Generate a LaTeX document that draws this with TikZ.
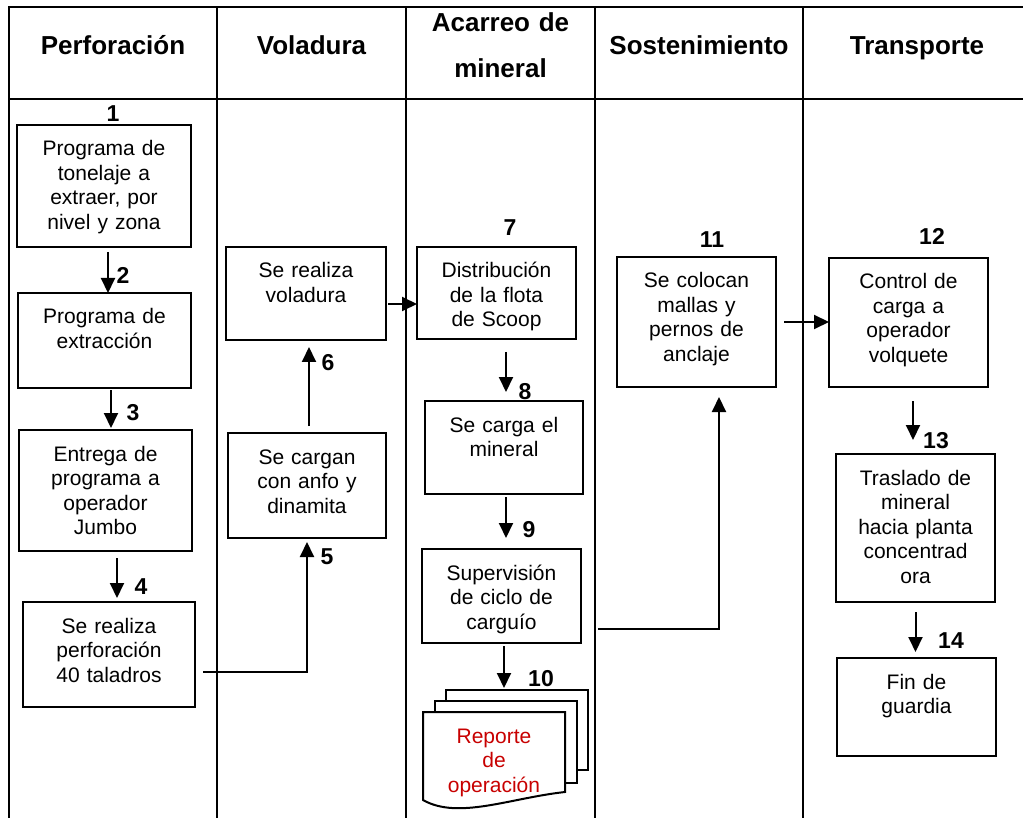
\documentclass[tikz,border=0pt]{standalone}
\usepackage{fontspec}
\setmainfont{Liberation Sans}
\usetikzlibrary{arrows.meta,backgrounds}
\definecolor{reportred}{RGB}{200,0,0}

\tikzset{
  frame/.style={line width=2.2pt},
  box/.style={draw, line width=2pt, anchor=north west, align=center,
    inner xsep=4pt, inner ysep=0pt, outer sep=0pt, text height=31pt,
    font=\fontsize{21}{24.5}\selectfont},
  head/.style={anchor=base, align=center, text width=190pt, inner sep=0pt,
    font=\fontsize{26}{46}\selectfont\bfseries},
  num/.style={inner sep=0pt, font=\fontsize{23}{26}\selectfont\bfseries},
  arr/.style={line width=2pt, -{Triangle[length=15pt,width=14pt]}},
  page/.style={line width=2pt, fill=white},
}

\begin{document}
\begin{tikzpicture}[x=1pt, y=-1pt]
  \useasboundingbox (0,0) rectangle (1023,818);

  \draw[frame] (1023,7) -- (9,7) -- (9,818);
  \draw[frame] (9,99) -- (1023,99);
  \draw[frame] (217,7) -- (217,818);
  \draw[frame] (406,7) -- (406,818);
  \draw[frame] (595,7) -- (595,818);
  \draw[frame] (803,7) -- (803,818);

  \node[head] (hperf) at (113,55) {Perforación};
  \node[head] (hvol) at (311.5,55) {Voladura};
  \node[head] (hacar) at (500.5,32) {Acarreo de\\mineral};
  \node[head] (hsost) at (699,55) {Sostenimiento};
  \node[head] (htrans) at (917,55) {Transporte};

  \node[box, text width=166pt, text depth=91pt] (b1) at (17,125) {Programa de\\tonelaje a\\extraer, por\\nivel y zona};
  \node[box, text width=165pt, text depth=64pt] (b2) at (18,293) {Programa de\\extracción};
  \node[box, text width=165pt, text depth=90pt] (b3) at (19,430) {Entrega de\\programa a\\operador\\Jumbo};
  \node[box, text width=164pt, text depth=74pt] (b4) at (23,602) {Se realiza\\perforación\\40 taladros};

  \node[box, text width=150pt, text depth=74pt] (b5) at (228,433) {Se cargan\\con anfo y\\dinamita};
  \node[box, text width=152pt, text depth=62pt] (b6) at (226,247) {Se realiza\\voladura};

  \node[box, text width=151pt, text depth=61pt] (b7) at (417,247) {Distribución\\de la flota\\de Scoop};
  \node[box, text width=150pt, text depth=62pt] (b8) at (425,401) {Se carga el\\mineral};
  \node[box, text width=151pt, text depth=63pt] (b9) at (422,549) {Supervisión\\de ciclo de\\carguío};
  \node[box, draw=none, text=reportred, text width=134pt, text depth=53pt] (b10) at (423,712) {Reporte\\de\\operación};

  \node[box, text width=151pt, text depth=99pt] (b11) at (617,257) {Se colocan\\mallas y\\pernos de\\anclaje};
  \node[box, text width=151pt, text depth=98pt] (b12) at (829,258) {Control de\\carga a\\operador\\volquete};
  \node[box, text width=151pt, text depth=117pt] (b13) at (836,454) {Traslado de\\mineral\\hacia planta\\concentrad\\ora};
  \node[box, text width=151pt, text depth=67pt] (b14) at (837,658) {Fin de\\guardia};

  \begin{scope}[on background layer]
    \draw[page] ([shift={(23pt,22pt)}]b10.north west) rectangle ([shift={(23pt,26pt)}]b10.south east);
    \draw[page] ([shift={(12pt,11pt)}]b10.north west) rectangle ([shift={(12pt,13pt)}]b10.south east);
    \draw[page] (b10.north west) -- (b10.north east) -- ([yshift=4pt]b10.south east)
      .. controls +(-55,6) and +(35,20) .. ([yshift=-4pt]b10.south west) -- cycle;
  \end{scope}

  \node[num] (n1) at (113,114) {1};
  \node[num] (n2) at (123,275) {2};
  \node[num] (n3) at (133,413) {3};
  \node[num] (n4) at (141,587) {4};
  \node[num] (n5) at (327,557) {5};
  \node[num] (n6) at (328,363) {6};
  \node[num] (n7) at (510,228) {7};
  \node[num] (n8) at (525,392) {8};
  \node[num] (n9) at (529,530) {9};
  \node[num] (n10) at (541,679) {10};
  \node[num] (n11) at (712,240) {11};
  \node[num] (n12) at (932,236) {12};
  \node[num] (n13) at (936,441) {13};
  \node[num] (n14) at (951,641) {14};

  \draw[arr, shorten <=5pt] ([xshift=4pt]b1.south) -- ([xshift=4pt]b1.south |- b2.north);
  \draw[arr, shorten <=2pt, shorten >=2pt] ([xshift=6.5pt]b2.south) -- ([xshift=6.5pt]b2.south |- b3.north);
  \draw[arr, shorten <=7pt, shorten >=4pt] ([xshift=11.5pt]b3.south) -- ([xshift=11.5pt]b3.south |- b4.north);
  \draw[arr, shorten >=4pt] (b4.east) ++(8,17.5) -| (b5.south);
  \draw[arr, shorten <=7pt, shorten >=7pt] ([xshift=2pt]b5.north) -- ([xshift=2pt]b5.north |- b6.south);
  \draw[arr, shorten <=2pt] ([yshift=-10.5pt]b6.east) -- ([yshift=-10.5pt]b6.east -| b7.west);
  \draw[arr, shorten <=13pt, shorten >=9pt] ([xshift=9.5pt]b7.south) -- ([xshift=9.5pt]b7.south |- b8.north);
  \draw[arr, shorten <=3pt, shorten >=11pt] ([xshift=2pt]b8.south) -- ([xshift=2pt]b8.south |- b9.north);
  \draw[arr, shorten <=3pt, shorten >=24pt] ([xshift=2.5pt]b9.south) -- ([xshift=2.5pt]b9.south |- b10.north);
  \draw[arr, shorten >=10pt] (b9.east) ++(17,33) -| ([xshift=22.5pt]b11.south);
  \draw[arr, shorten <=8pt] (b11.east) -- (b11.east -| b12.west);
  \draw[arr, shorten <=14pt, shorten >=14pt] ([xshift=4.5pt]b12.south) -- ([xshift=4.5pt]b12.south |- b13.north);
  \draw[arr, shorten <=10pt, shorten >=6pt] (b13.south) -- (b13.south |- b14.north);
\end{tikzpicture}
\end{document}
